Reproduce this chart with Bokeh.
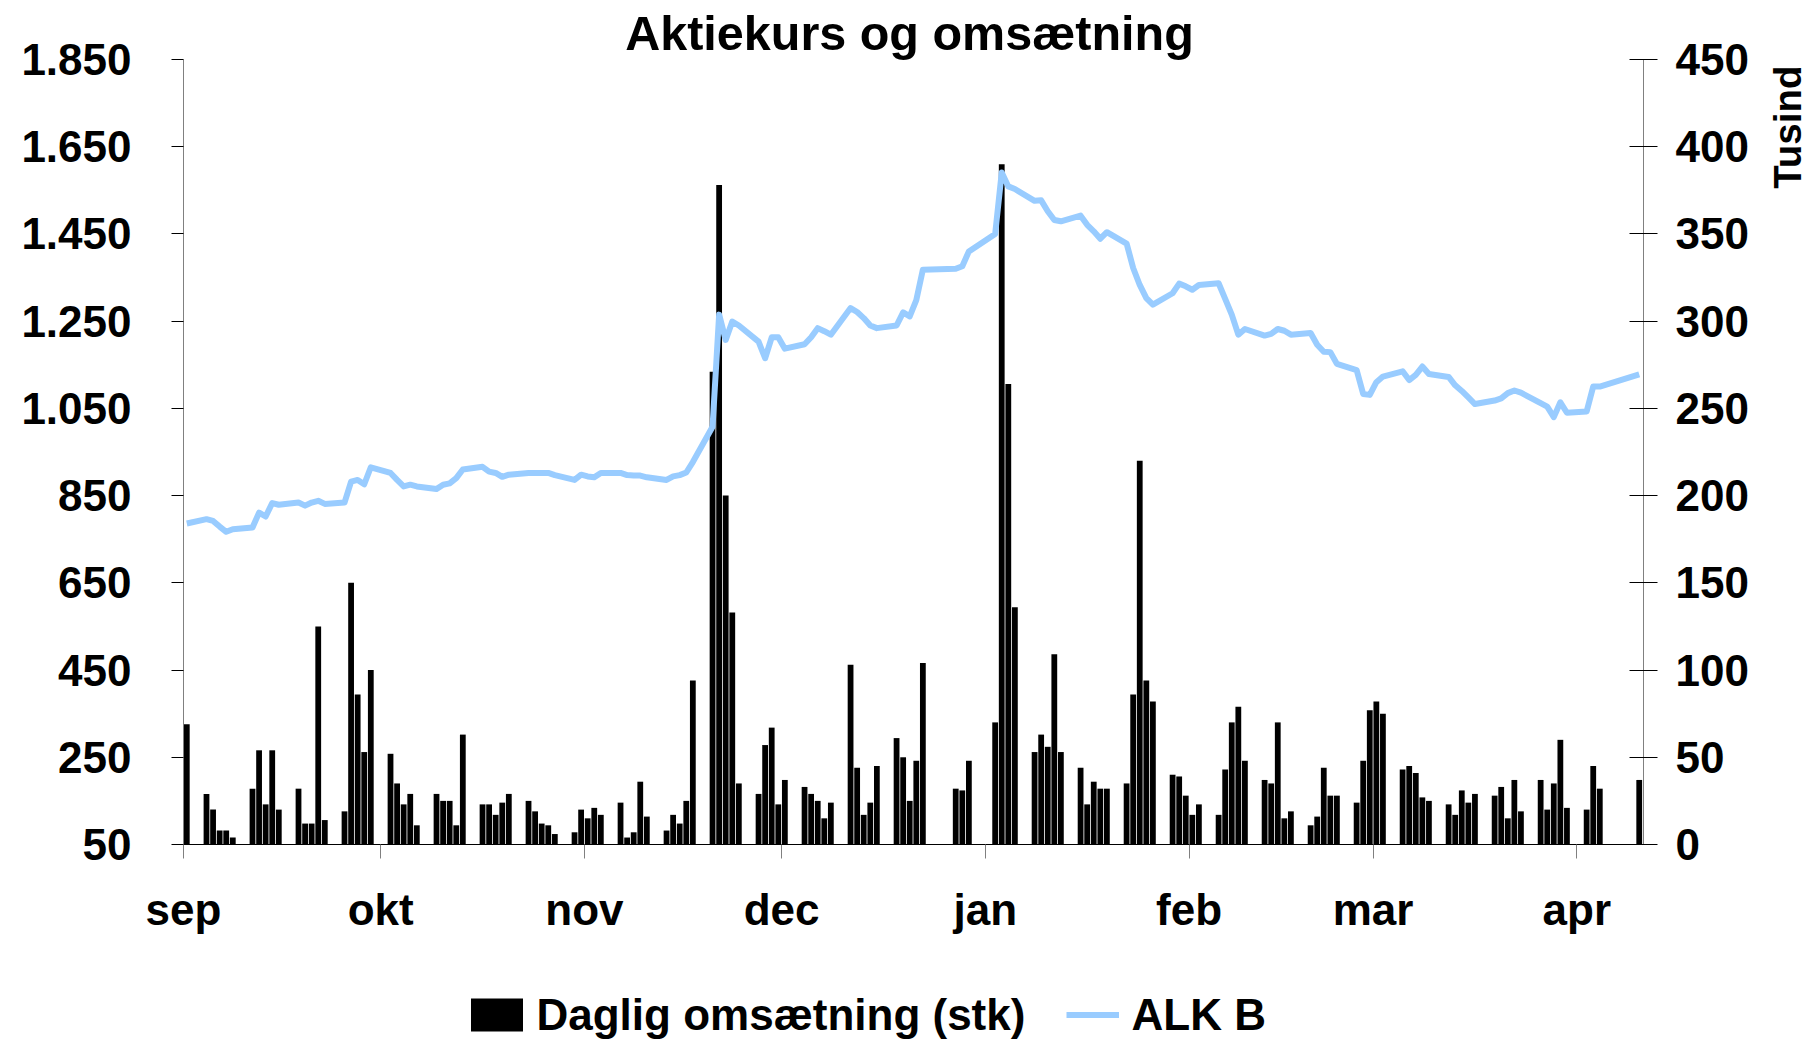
import math
import datetime as dt

from bokeh.plotting import figure
from bokeh.models import (Range1d, LinearAxis, FixedTicker, Legend, LegendItem,
                          Label, ColumnDataSource)
from bokeh.embed import file_html
from bokeh.resources import INLINE

# ---------------- data ----------------
TITLE = "Aktiekurs og omsætning"
BAR_NAME = "Daglig omsætning (stk)"
LINE_NAME = "ALK B"
RIGHT_UNIT = "Tusind"

START = dt.date(2006, 9, 1)

month_labels = ["sep", "okt", "nov", "dec", "jan", "feb", "mar", "apr"]
month_starts = ["2006-09-01", "2006-10-01", "2006-11-01", "2006-12-01",
                "2007-01-01", "2007-02-01", "2007-03-01", "2007-04-01"]

left_ticks = [50, 250, 450, 650, 850, 1050, 1250, 1450, 1650, 1850]
left_tick_labels = ["50", "250", "450", "650", "850", "1.050", "1.250", "1.450", "1.650", "1.850"]
right_ticks = [0, 50, 100, 150, 200, 250, 300, 350, 400, 450]

# trading days (day of month), daily volume (thousands), closing price
sep_days = [1, 4, 5, 6, 7, 8, 11, 12, 13, 14, 15, 18, 19, 20, 21, 22, 25, 26, 27, 28, 29]
sep_vol = [69, 29, 20, 8, 8, 4, 32, 54, 23, 54, 20, 32, 12, 12, 125, 14, 19, 150, 86, 53, 100]
sep_price = [786, 796, 792, 779, 767, 773, 777, 811, 802, 833, 829, 834, 827, 834, 838, 831, 834, 882, 886, 876, 915]

oct_days = [2, 3, 4, 5, 6, 9, 10, 11, 12, 13, 16, 17, 18, 19, 20, 23, 24, 25, 26, 27, 30, 31]
oct_vol = [52, 35, 23, 29, 11, 29, 25, 25, 11, 63, 23, 23, 17, 24, 29, 25, 19, 12, 11, 6, 7, 20]
oct_price = [902, 886, 871, 875, 871, 865, 875, 878, 890, 910, 916, 905, 902, 893, 898, 902, 902, 902, 902, 897, 886, 898]

nov_days = [1, 2, 3, 6, 7, 8, 9, 10, 13, 14, 15, 16, 17, 20, 21, 22, 23, 24, 27, 28, 29, 30]
nov_vol = [15, 21, 17, 24, 4, 7, 36, 16, 8, 17, 12, 25, 94, 271, 378, 200, 133, 35, 29, 57, 67, 23]
nov_price = [894, 892, 902, 902, 897, 896, 896, 892, 886, 894, 897, 903, 927, 1008, 1265, 1207, 1249, 1240, 1203, 1165, 1213, 1213]

dec_days = [1, 4, 5, 6, 7, 8, 11, 12, 13, 14, 15, 18, 19, 20, 21, 22, 27, 28, 29]
dec_vol = [37, 33, 29, 25, 15, 24, 103, 44, 17, 24, 45, 61, 50, 25, 48, 104, 32, 31, 48]
dec_price = [1187, 1197, 1213, 1234, 1227, 1219, 1280, 1271, 1257, 1240, 1234, 1240, 1270, 1261, 1298, 1368, 1370, 1376, 1410]

jan_days = [2, 3, 4, 5, 8, 9, 10, 11, 12, 15, 16, 17, 18, 19, 22, 23, 24, 25, 26, 29, 30, 31]
jan_vol = [70, 390, 264, 136, 53, 63, 56, 109, 53, 44, 23, 36, 32, 32, 35, 86, 220, 94, 82, 40, 39, 28]
jan_price = [1450, 1591, 1559, 1553, 1526, 1527, 1502, 1482, 1479, 1492, 1471, 1456, 1439, 1454, 1428, 1372, 1333, 1303, 1288, 1314, 1336, 1330]

feb_days = [1, 2, 5, 6, 7, 8, 9, 12, 13, 14, 15, 16, 19, 20, 21, 22, 23, 26, 27, 28]
feb_vol = [17, 23, 17, 43, 70, 79, 48, 37, 35, 70, 15, 19, 11, 16, 44, 28, 28, 24, 48, 77]
feb_price = [1322, 1333, 1337, 1301, 1265, 1219, 1232, 1217, 1221, 1232, 1228, 1219, 1223, 1196, 1180, 1179, 1152, 1138, 1083, 1081]

mar_days = [1, 2, 5, 6, 7, 8, 9, 12, 13, 14, 15, 16, 19, 20, 21, 22, 23, 26, 27, 28, 29, 30]
mar_vol = [82, 75, 43, 45, 41, 27, 25, 23, 17, 31, 24, 29, 28, 33, 15, 37, 19, 37, 20, 35, 60, 21]
mar_price = [1110, 1123, 1135, 1115, 1127, 1146, 1129, 1122, 1103, 1090, 1075, 1060, 1068, 1073, 1085, 1091, 1086, 1062, 1054, 1030, 1064, 1040]

apr_days = [2, 3, 4, 10]
apr_vol = [20, 45, 32, 37]
apr_price = [1043, 1100, 1100, 1128]

months = [
    (2006, 9, sep_days, sep_vol, sep_price),
    (2006, 10, oct_days, oct_vol, oct_price),
    (2006, 11, nov_days, nov_vol, nov_price),
    (2006, 12, dec_days, dec_vol, dec_price),
    (2007, 1, jan_days, jan_vol, jan_price),
    (2007, 2, feb_days, feb_vol, feb_price),
    (2007, 3, mar_days, mar_vol, mar_price),
    (2007, 4, apr_days, apr_vol, apr_price),
]

# ---------------- layout constants (pixels) ----------------
W, H = 1820, 1044
PLOT_L, PLOT_T, PLOT_W, PLOT_H = 183, 59, 1460, 785
X_END = 222.15                 # days shown on the date axis
Y0, Y1 = 50, 1850              # price axis
V0, V1 = 0, 450                # volume axis (thousands)

px_day = PLOT_W / X_END
px_y = PLOT_H / (Y1 - Y0)
px_v = PLOT_H / (V1 - V0)
PLOT_B = PLOT_T + PLOT_H

def dx(px):   # canvas x pixel -> day coordinate
    return (px - PLOT_L) / px_day

def dy(py):   # canvas y pixel -> price coordinate
    return Y0 + (PLOT_B - py) / px_y

# ---------------- build ----------------
xs, vols, prices = [], [], []
for yr, mo, days, vv, pp in months:
    for d, v, pr in zip(days, vv, pp):
        off = (dt.date(yr, mo, d) - START).days
        xs.append(off + 0.5)     # centre of the day's slot on the date axis
        vols.append(v)
        prices.append(pr)

src = ColumnDataSource(dict(x=xs, vol=vols, price=prices))
month_pos = [(dt.date.fromisoformat(s) - START).days for s in month_starts]

FONT = "Liberation Sans"

p = figure(width=W, height=H, output_backend="svg", toolbar_location=None,
           x_range=Range1d(dx(0), dx(W)), y_range=Range1d(dy(H), dy(0)),
           min_border=0, title=None)
p.extra_y_ranges = {"vol": Range1d(V0 - (H - PLOT_B) / px_v, V0 + PLOT_B / px_v)}
p.outline_line_color = None
p.xgrid.visible = False
p.ygrid.visible = False
p.background_fill_color = "white"
p.border_fill_color = "white"

bars = p.vbar(x="x", width=0.88, top="vol", bottom=0, source=src, y_range_name="vol",
              fill_color="black", line_color=None)
line = p.line(x="x", y="price", source=src, line_color="#99CCFF", line_width=6,
              line_join="round")

def style_axis(ax):
    ax.major_label_text_font = FONT
    ax.major_label_text_font_style = "bold"
    ax.major_label_text_font_size = "44px"
    ax.major_label_text_color = "black"
    ax.minor_tick_line_color = None

# bottom (date) axis
xa = p.xaxis[0]
xa.fixed_location = Y0
xa.bounds = (0, X_END)
xa.ticker = FixedTicker(ticks=month_pos)
xa.major_label_overrides = {pos: lab for pos, lab in zip(month_pos, month_labels)}
style_axis(xa)
xa.axis_line_color = "black"
xa.major_tick_line_color = "#808080"
xa.major_tick_out = 14
xa.major_tick_in = 0
xa.major_label_standoff = 26

# left (price) axis
ya = p.yaxis[0]
ya.fixed_location = 0
ya.bounds = (Y0, Y1)
ya.ticker = FixedTicker(ticks=left_ticks)
ya.major_label_overrides = {t: lab for t, lab in zip(left_ticks, left_tick_labels)}
style_axis(ya)
ya.axis_line_color = "#808080"
ya.major_tick_line_color = "black"
ya.major_tick_out = 12
ya.major_tick_in = 0
ya.major_label_standoff = 40

# right (volume) axis
ra = LinearAxis(y_range_name="vol", ticker=FixedTicker(ticks=right_ticks))
ra.fixed_location = X_END
ra.bounds = (V0, V1)
style_axis(ra)
ra.axis_line_color = "#808080"
ra.major_tick_line_color = "black"
ra.major_tick_out = 14
ra.major_tick_in = 14
ra.major_label_standoff = 18
p.add_layout(ra, "right")

# title and unit label
p.add_layout(Label(x=dx(909), y=dy(32.4), text=TITLE, text_align="center",
                   text_baseline="alphabetic", text_font=FONT, text_font_style="bold",
                   text_font_size="48.5px", text_color="black"))
p.add_layout(Label(x=dx(1787), y=dy(126.7), text=RIGHT_UNIT, angle=math.pi / 2,
                   text_align="center", text_baseline="middle", text_font=FONT,
                   text_font_style="bold", text_font_size="38.5px", text_color="black"))

# legends below the chart
def make_legend(item, left_px, gw, gh, standoff, centre_py):
    lg = Legend(items=[item], location=(left_px, H - centre_py - 23), orientation="horizontal",
                glyph_width=gw, glyph_height=gh, label_standoff=standoff,
                padding=0, margin=0, spacing=0, border_line_color=None,
                background_fill_alpha=0, label_text_font=FONT,
                label_text_font_style="bold", label_text_font_size="44px",
                label_text_color="black")
    p.add_layout(lg)

make_legend(LegendItem(label=BAR_NAME, renderers=[bars]), 463.5, 65, 41, 8, 1016.5)
make_legend(LegendItem(label=LINE_NAME, renderers=[line]), 1065.5, 53, 41, 13, 1016.5)

open("out.html", "w").write(file_html(p, INLINE))
